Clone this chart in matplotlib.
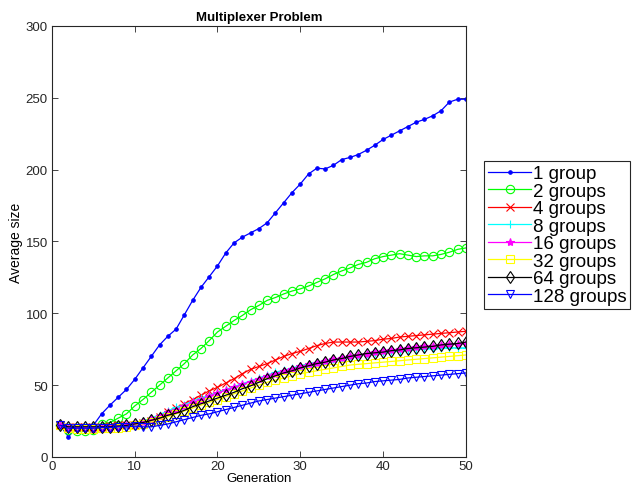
import matplotlib
matplotlib.use("Agg")
import matplotlib.pyplot as plt

plt.rcParams['font.family'] = ['Liberation Sans', 'DejaVu Sans']

# Average size per generation for each number of groups
generations = list(range(1, 51))
g1 = [22, 14, 21, 21, 22, 30, 36, 41.5, 47, 54,
      62, 70, 78, 84, 89, 99, 109, 118, 125.5, 133,
      142, 149, 153, 156, 159, 163, 170, 177, 184, 190,
      197, 201, 200.5, 203, 207, 208.5, 210.5, 213.5, 217, 221,
      224, 227, 230, 233, 235, 237.5, 241, 247, 249, 249]
g2 = [22, 19, 18, 18, 18.5, 23, 24, 27, 30, 35.5,
      40, 45, 50, 55, 60, 65, 71, 75.5, 81, 87,
      91, 95, 98.5, 102.5, 105.5, 109, 111, 113.5, 115.5, 117,
      119, 121.5, 124, 127, 129.5, 131.5, 134, 135.5, 138, 139.5,
      140.5, 141.5, 140.5, 139.5, 140, 140, 141, 142.5, 144.5, 145.5]
g4 = [22, 21, 21, 21, 21, 21, 21.5, 22, 22, 22.5,
      23.5, 25, 28, 31, 34, 37, 40, 43, 46, 48.5,
      51.5, 54.5, 58, 61, 63, 65, 67.5, 70, 72, 73.5,
      75.5, 77.5, 79, 80, 80, 80, 80, 80.5, 81, 82,
      82.5, 83.5, 84, 84.5, 85, 85.5, 86, 86.5, 87, 87.5]
g8 = [22, 21, 21, 21, 21, 21, 21, 21.5, 22, 23,
      25, 27, 29.5, 32, 34.5, 36.5, 39, 41, 43, 45,
      47, 49, 51, 53, 55, 57, 59, 60.5, 62, 63.5,
      65, 66, 67, 68, 69, 70, 71, 72, 72.5, 73,
      73.5, 74, 74.5, 75, 75.5, 75.5, 76, 76, 76, 76]
g16 = [22, 20, 20, 20, 19.5, 20, 20.5, 21, 22, 23,
       24.5, 26.5, 28.5, 31, 33, 35.5, 38, 40, 42.5, 44.5,
       46.5, 48.5, 50.5, 52.5, 54.5, 56.5, 58, 60, 61.5, 63,
       64.5, 65.5, 67, 68, 69, 70, 71, 72, 73, 74,
       74.5, 75, 76, 76.5, 77, 77.5, 78, 78.5, 78.5, 79]
g32 = [22, 20, 19.5, 19.5, 19.5, 20, 20, 20.5, 21, 22,
       23, 24.5, 26, 28, 30, 32, 34, 36, 38, 40,
       42, 44, 46, 48, 50, 52, 53.5, 55, 56.5, 58,
       59, 60, 61, 62, 63, 64, 64.5, 65, 65.5, 66,
       66.5, 67, 67.5, 68, 68.5, 69, 69.5, 70, 70.5, 71]
g64 = [22, 21, 21, 21, 21, 21, 21, 21.5, 22, 23,
       24, 25.5, 27, 29, 30.5, 32.5, 35, 37, 39, 41,
       43, 45, 47.5, 49.5, 52, 54.5, 56.5, 58.5, 60, 62,
       63.5, 65, 66, 67.5, 68.5, 70, 71, 72, 72.5, 73,
       74, 74.5, 75.5, 76, 76.5, 77, 78, 78.5, 79, 80]
g128 = [22, 20, 20, 20, 20, 20.5, 20.5, 21, 21, 21.5,
        21, 21, 22, 23, 24.5, 26, 27.5, 29, 30, 31.5,
        33, 34.5, 36, 37.5, 39, 40, 41, 42, 43, 44,
        45, 46, 47, 48, 49, 50, 51, 51.5, 52.5, 53,
        53.5, 54, 55, 55.5, 56, 56.5, 57, 57.5, 58, 58.5]

labels = ['1 group', '2 groups', '4 groups', '8 groups', '16 groups',
          '32 groups', '64 groups', '128 groups']
series = [g1, g2, g4, g8, g16, g32, g64, g128]
colors = ['#0000ff', '#00ff00', '#ff0000', '#00ffff', '#ff00ff',
          '#ffff00', '#000000', '#0000ff']
markers = ['.', 'o', 'x', '+', '*', 's', 'd', 'v']

fig = plt.figure(figsize=(6.33, 4.85), dpi=100)
ax = fig.add_axes([0.082, 0.0557, 0.654, 0.8887])

for ys, lab, c, m in zip(series, labels, colors, markers):
    ms = 5 if m == '.' else 6
    ax.plot(generations, ys, color=c, marker=m, markersize=ms,
            markerfacecolor='none' if m not in ('.', '*', '+', 'x') else c,
            markeredgecolor=c, linewidth=0.9, markeredgewidth=0.8, label=lab)

ax.set_xlim(0, 50)
ax.set_ylim(0, 300)
ax.set_xticks(range(0, 51, 10))
ax.set_yticks(range(0, 301, 50))
ax.tick_params(direction='in', top=True, right=True, labelsize=9.5,
               length=4, width=0.6, colors='#262626', pad=3)
ax.tick_params(axis='x', pad=2)
for sp in ax.spines.values():
    sp.set_linewidth(0.8)
    sp.set_color('#262626')

ax.set_title('Multiplexer Problem', fontsize=9.5, fontweight='bold', pad=4)
ax.set_xlabel('Generation', fontsize=9.5, labelpad=0)
ax.set_ylabel('Average size', fontsize=10, labelpad=2)

leg = fig.legend(loc='upper left', bbox_to_anchor=(0.765, 0.665),
                 fontsize=13.5, labelspacing=0.02, handlelength=2.3,
                 handletextpad=0.1, borderpad=0.2, borderaxespad=0,
                 fancybox=False, edgecolor='#262626', framealpha=1)
leg.get_frame().set_linewidth(0.8)

fig.savefig('out.png', dpi=100)
